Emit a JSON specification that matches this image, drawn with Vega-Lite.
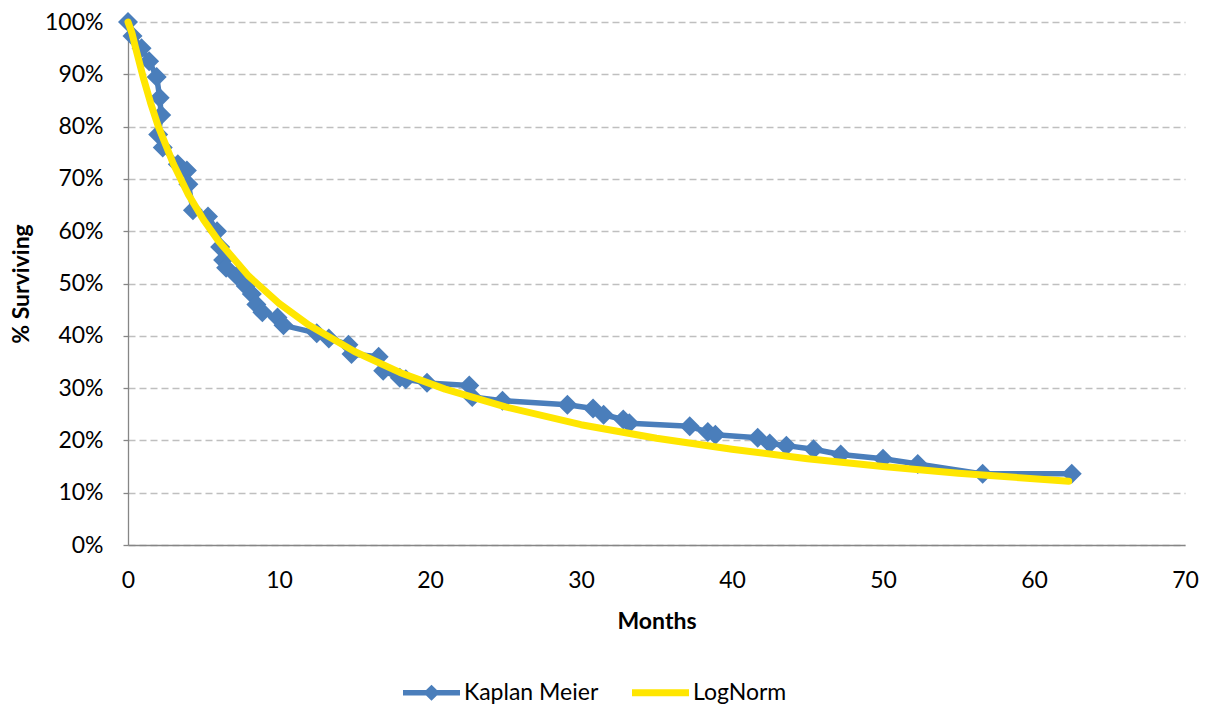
{
  "$schema": "https://vega.github.io/schema/vega-lite/v6.json",
  "width": 1057,
  "height": 523,
  "autosize": {"type": "none"},
  "padding": {"left": 128, "top": 22, "right": 27, "bottom": 161},
  "background": "white",
  "config": {
    "font": "Lato",
    "view": {"stroke": null},
    "axis": {"labelFont": "Lato", "labelFontSize": 23, "labelColor": "#000000", "titleFont": "Lato", "titleFontSize": 23, "titleFontWeight": "bold", "titleColor": "#000000"}
  },
  "data": {
    "values": [
      {"series": "Kaplan Meier", "i": 1, "month": 0, "pct": 100},
      {"series": "Kaplan Meier", "i": 2, "month": 0.3, "pct": 97.3},
      {"series": "Kaplan Meier", "i": 3, "month": 0.9, "pct": 95},
      {"series": "Kaplan Meier", "i": 4, "month": 1.4, "pct": 92.5},
      {"series": "Kaplan Meier", "i": 5, "month": 1.9, "pct": 89.5},
      {"series": "Kaplan Meier", "i": 6, "month": 2.1, "pct": 85.5},
      {"series": "Kaplan Meier", "i": 7, "month": 2.2, "pct": 82.2},
      {"series": "Kaplan Meier", "i": 8, "month": 2.0, "pct": 78.5},
      {"series": "Kaplan Meier", "i": 9, "month": 2.3, "pct": 76},
      {"series": "Kaplan Meier", "i": 10, "month": 3.3, "pct": 72.8},
      {"series": "Kaplan Meier", "i": 11, "month": 3.9, "pct": 71.6},
      {"series": "Kaplan Meier", "i": 12, "month": 4.0, "pct": 69},
      {"series": "Kaplan Meier", "i": 13, "month": 4.3, "pct": 64},
      {"series": "Kaplan Meier", "i": 14, "month": 5.3, "pct": 62.8},
      {"series": "Kaplan Meier", "i": 15, "month": 5.9, "pct": 60},
      {"series": "Kaplan Meier", "i": 16, "month": 6.1, "pct": 57},
      {"series": "Kaplan Meier", "i": 17, "month": 6.3, "pct": 54.5},
      {"series": "Kaplan Meier", "i": 18, "month": 6.5, "pct": 53},
      {"series": "Kaplan Meier", "i": 19, "month": 7.2, "pct": 51.5},
      {"series": "Kaplan Meier", "i": 20, "month": 7.8, "pct": 49.5},
      {"series": "Kaplan Meier", "i": 21, "month": 8.2, "pct": 48},
      {"series": "Kaplan Meier", "i": 22, "month": 8.5, "pct": 46},
      {"series": "Kaplan Meier", "i": 23, "month": 8.9, "pct": 44.5},
      {"series": "Kaplan Meier", "i": 24, "month": 9.9, "pct": 43.5},
      {"series": "Kaplan Meier", "i": 25, "month": 10.3, "pct": 42},
      {"series": "Kaplan Meier", "i": 26, "month": 12.5, "pct": 40.5},
      {"series": "Kaplan Meier", "i": 27, "month": 13.3, "pct": 39.5},
      {"series": "Kaplan Meier", "i": 28, "month": 14.6, "pct": 38.3},
      {"series": "Kaplan Meier", "i": 29, "month": 14.8, "pct": 36.5},
      {"series": "Kaplan Meier", "i": 30, "month": 16.6, "pct": 36},
      {"series": "Kaplan Meier", "i": 31, "month": 16.9, "pct": 33.3},
      {"series": "Kaplan Meier", "i": 32, "month": 18.0, "pct": 32},
      {"series": "Kaplan Meier", "i": 33, "month": 18.4, "pct": 31.7},
      {"series": "Kaplan Meier", "i": 34, "month": 19.8, "pct": 31},
      {"series": "Kaplan Meier", "i": 35, "month": 22.6, "pct": 30.5},
      {"series": "Kaplan Meier", "i": 36, "month": 22.8, "pct": 28.3},
      {"series": "Kaplan Meier", "i": 37, "month": 24.8, "pct": 27.6},
      {"series": "Kaplan Meier", "i": 38, "month": 29.1, "pct": 26.8},
      {"series": "Kaplan Meier", "i": 39, "month": 30.8, "pct": 26.1},
      {"series": "Kaplan Meier", "i": 40, "month": 31.5, "pct": 24.9},
      {"series": "Kaplan Meier", "i": 41, "month": 32.8, "pct": 24},
      {"series": "Kaplan Meier", "i": 42, "month": 33.2, "pct": 23.3},
      {"series": "Kaplan Meier", "i": 43, "month": 37.2, "pct": 22.7},
      {"series": "Kaplan Meier", "i": 44, "month": 38.4, "pct": 21.6},
      {"series": "Kaplan Meier", "i": 45, "month": 38.9, "pct": 21.1},
      {"series": "Kaplan Meier", "i": 46, "month": 41.7, "pct": 20.5},
      {"series": "Kaplan Meier", "i": 47, "month": 42.5, "pct": 19.4},
      {"series": "Kaplan Meier", "i": 48, "month": 43.6, "pct": 19},
      {"series": "Kaplan Meier", "i": 49, "month": 45.4, "pct": 18.3},
      {"series": "Kaplan Meier", "i": 50, "month": 47.2, "pct": 17.3},
      {"series": "Kaplan Meier", "i": 51, "month": 50.0, "pct": 16.5},
      {"series": "Kaplan Meier", "i": 52, "month": 52.3, "pct": 15.5},
      {"series": "Kaplan Meier", "i": 53, "month": 56.6, "pct": 13.6},
      {"series": "Kaplan Meier", "i": 54, "month": 62.5, "pct": 13.6},
      {"series": "LogNorm", "i": 1, "month": 0, "pct": 100},
      {"series": "LogNorm", "i": 2, "month": 0.25, "pct": 98.0},
      {"series": "LogNorm", "i": 3, "month": 0.5, "pct": 95.1},
      {"series": "LogNorm", "i": 4, "month": 1, "pct": 89.5},
      {"series": "LogNorm", "i": 5, "month": 1.5, "pct": 84.5},
      {"series": "LogNorm", "i": 6, "month": 2, "pct": 80.1},
      {"series": "LogNorm", "i": 7, "month": 3, "pct": 72.9},
      {"series": "LogNorm", "i": 8, "month": 4, "pct": 67.0},
      {"series": "LogNorm", "i": 9, "month": 5, "pct": 62.2},
      {"series": "LogNorm", "i": 10, "month": 6, "pct": 58.1},
      {"series": "LogNorm", "i": 11, "month": 8, "pct": 51.4},
      {"series": "LogNorm", "i": 12, "month": 10, "pct": 46.2},
      {"series": "LogNorm", "i": 13, "month": 12, "pct": 42.0},
      {"series": "LogNorm", "i": 14, "month": 15, "pct": 37.0},
      {"series": "LogNorm", "i": 15, "month": 18, "pct": 33.0},
      {"series": "LogNorm", "i": 16, "month": 21, "pct": 29.8},
      {"series": "LogNorm", "i": 17, "month": 25, "pct": 26.4},
      {"series": "LogNorm", "i": 18, "month": 30, "pct": 23.0},
      {"series": "LogNorm", "i": 19, "month": 35, "pct": 20.4},
      {"series": "LogNorm", "i": 20, "month": 40, "pct": 18.3},
      {"series": "LogNorm", "i": 21, "month": 45, "pct": 16.5},
      {"series": "LogNorm", "i": 22, "month": 50, "pct": 15.0},
      {"series": "LogNorm", "i": 23, "month": 55, "pct": 13.7},
      {"series": "LogNorm", "i": 24, "month": 62.3, "pct": 12.2}
    ]
  },
  "encoding": {
    "x": {
      "field": "month", "type": "quantitative",
      "scale": {"domain": [0, 70], "nice": false, "zero": false},
      "axis": {"title": "Months", "values": [0, 10, 20, 30, 40, 50, 60, 70], "ticks": false, "grid": false, "domainColor": "#868686", "domainWidth": 1.3, "labelPadding": 24, "titlePadding": 18, "labelFlush": false}
    },
    "y": {
      "field": "pct", "type": "quantitative",
      "scale": {"domain": [0, 100], "nice": false},
      "axis": {"title": "% Surviving", "values": [0, 10, 20, 30, 40, 50, 60, 70, 80, 90, 100], "labelExpr": "datum.value + '%'", "tickSize": 5, "tickColor": "#868686", "tickWidth": 1.3, "domainColor": "#868686", "domainWidth": 1.3, "labelPadding": 20, "titlePadding": 11, "grid": true, "gridColor": "#bfbfbf", "gridDash": [7, 4], "gridWidth": 1.3, "labelFlush": false}
    },
    "color": {
      "field": "series", "type": "nominal",
      "scale": {"domain": ["Kaplan Meier", "LogNorm"], "range": ["#4a7ebb", "#ffe600"]},
      "legend": {
        "title": null, "orient": "none", "direction": "horizontal",
        "legendX": 275, "legendY": 642,
        "symbolSize": 3249, "labelFontSize": 23, "labelFont": "Lato", "labelColor": "#000000",
        "labelOffset": 4, "columnPadding": 33,
        "encode": {
          "symbols": {
            "update": {
              "shape": {"signal": "datum.value === 'Kaplan Meier' ? 'M-1,-0.095L-0.19,-0.095L0,-0.285L0.19,-0.095L1,-0.095L1,0.095L0.19,0.095L0,0.285L-0.19,0.095L-1,0.095Z' : 'M-1,-0.123L1,-0.123L1,0.123L-1,0.123Z'"},
              "fill": {"signal": "datum.value === 'Kaplan Meier' ? '#4a7ebb' : '#ffe600'"},
              "fillOpacity": {"value": 1},
              "strokeWidth": {"value": 0}
            }
          }
        }
      }
    },
    "order": {"field": "i", "type": "quantitative"}
  },
  "layer": [
    {
      "transform": [{"filter": "datum.series === 'Kaplan Meier'"}],
      "mark": {"type": "line", "strokeWidth": 5.5, "strokeJoin": "round", "strokeCap": "round", "point": {"shape": "diamond", "size": 400, "filled": true, "opacity": 1}}
    },
    {
      "transform": [{"filter": "datum.series === 'LogNorm'"}],
      "mark": {"type": "line", "strokeWidth": 7, "strokeCap": "round", "strokeJoin": "round"}
    }
  ]
}
